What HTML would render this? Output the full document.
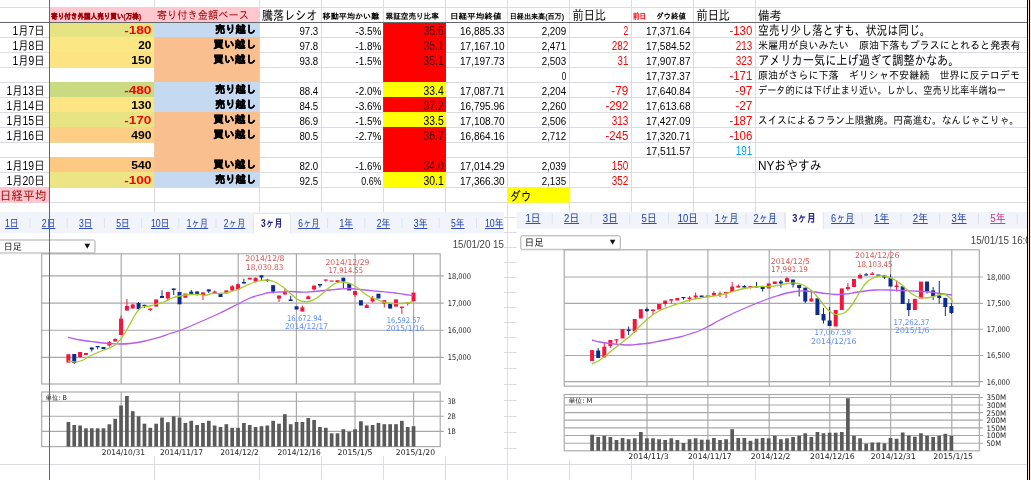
<!DOCTYPE html>
<html lang="ja"><head><meta charset="utf-8"><title>sheet</title>
<style>html,body{margin:0;padding:0;background:#fff;overflow:hidden}svg{display:block}text{white-space:pre}</style>
</head><body>
<svg width="1031" height="480" viewBox="0 0 1031 480">
<rect width="1031" height="480" fill="#fff"/>
<g shape-rendering="crispEdges">
<rect x="0" y="7" width="1027" height="1" fill="#dadce1" />
<rect x="0" y="22" width="1027" height="1" fill="#dadce1" />
<rect x="0" y="37" width="1027" height="1" fill="#dadce1" />
<rect x="0" y="52" width="1027" height="1" fill="#dadce1" />
<rect x="0" y="67" width="1027" height="1" fill="#dadce1" />
<rect x="0" y="82" width="1027" height="1" fill="#dadce1" />
<rect x="0" y="97" width="1027" height="1" fill="#dadce1" />
<rect x="0" y="112" width="1027" height="1" fill="#dadce1" />
<rect x="0" y="127" width="1027" height="1" fill="#dadce1" />
<rect x="0" y="142" width="1027" height="1" fill="#dadce1" />
<rect x="0" y="157" width="1027" height="1" fill="#dadce1" />
<rect x="0" y="172" width="1027" height="1" fill="#dadce1" />
<rect x="0" y="187" width="1027" height="1" fill="#dadce1" />
<rect x="0" y="202" width="1027" height="1" fill="#dadce1" />
<rect x="0" y="217" width="1027" height="1" fill="#dadce1" />
<rect x="0" y="232" width="1027" height="1" fill="#dadce1" />
<rect x="0" y="247" width="1027" height="1" fill="#dadce1" />
<rect x="0" y="262" width="1027" height="1" fill="#dadce1" />
<rect x="0" y="277" width="1027" height="1" fill="#dadce1" />
<rect x="0" y="292" width="1027" height="1" fill="#dadce1" />
<rect x="0" y="307" width="1027" height="1" fill="#dadce1" />
<rect x="0" y="322" width="1027" height="1" fill="#dadce1" />
<rect x="0" y="337" width="1027" height="1" fill="#dadce1" />
<rect x="0" y="352" width="1027" height="1" fill="#dadce1" />
<rect x="0" y="368" width="1027" height="1" fill="#dadce1" />
<rect x="0" y="384" width="1027" height="1" fill="#dadce1" />
<rect x="0" y="400" width="1027" height="1" fill="#dadce1" />
<rect x="0" y="416" width="1027" height="1" fill="#dadce1" />
<rect x="0" y="432" width="1027" height="1" fill="#dadce1" />
<rect x="0" y="448" width="1027" height="1" fill="#dadce1" />
<rect x="0" y="464" width="1027" height="1" fill="#dadce1" />
<rect x="154" y="0" width="1" height="480" fill="#dadce1" />
<rect x="259" y="0" width="1" height="480" fill="#dadce1" />
<rect x="321" y="0" width="1" height="480" fill="#dadce1" />
<rect x="383" y="0" width="1" height="480" fill="#dadce1" />
<rect x="445" y="0" width="1" height="480" fill="#dadce1" />
<rect x="507" y="0" width="1" height="480" fill="#dadce1" />
<rect x="569" y="0" width="1" height="480" fill="#dadce1" />
<rect x="631" y="0" width="1" height="480" fill="#dadce1" />
<rect x="693" y="0" width="1" height="480" fill="#dadce1" />
<rect x="755" y="0" width="1" height="480" fill="#dadce1" />
</g>
<rect x="50" y="7.3" width="209.7" height="14.7" fill="#ffc7ce" />
<rect x="50" y="23" width="104.25" height="14.7" fill="#e6e383" />
<rect x="50" y="37.0" width="104.25" height="15.7" fill="#fbe884" />
<rect x="50" y="52.0" width="104.25" height="15.7" fill="#fee383" />
<rect x="50" y="82.0" width="104.25" height="15.7" fill="#c9da81" />
<rect x="50" y="97.0" width="104.25" height="15.7" fill="#fde583" />
<rect x="50" y="112.0" width="104.25" height="15.7" fill="#e7e483" />
<rect x="50" y="127.0" width="104.25" height="15.7" fill="#fdcf84" />
<rect x="50" y="157.0" width="104.25" height="15.7" fill="#fdc983" />
<rect x="50" y="172.0" width="104.25" height="15.7" fill="#ede483" />
<rect x="154.25" y="23" width="105.45" height="14.7" fill="#c5d9f1" />
<rect x="154.25" y="37.0" width="105.45" height="15.7" fill="#fabf8f" />
<rect x="154.25" y="52.0" width="105.45" height="15.7" fill="#fabf8f" />
<rect x="154.25" y="67.0" width="105.45" height="15.7" fill="#fabf8f" />
<rect x="154.25" y="82.0" width="105.45" height="15.7" fill="#c5d9f1" />
<rect x="154.25" y="97.0" width="105.45" height="15.7" fill="#c5d9f1" />
<rect x="154.25" y="112.0" width="105.45" height="15.7" fill="#fabf8f" />
<rect x="154.25" y="127.0" width="105.45" height="15.7" fill="#fabf8f" />
<rect x="154.25" y="142.0" width="105.45" height="15.7" fill="#fabf8f" />
<rect x="154.25" y="157.0" width="105.45" height="15.7" fill="#fabf8f" />
<rect x="154.25" y="172.0" width="105.45" height="15.7" fill="#c5d9f1" />
<rect x="383.1" y="23" width="62.9" height="14.7" fill="#ff0000" />
<rect x="383.1" y="37.0" width="62.9" height="15.7" fill="#ff0000" />
<rect x="383.1" y="52.0" width="62.9" height="15.7" fill="#ff0000" />
<rect x="383.1" y="67.0" width="62.9" height="15.7" fill="#ff0000" />
<rect x="383.1" y="82.0" width="62.9" height="15.7" fill="#ffff00" />
<rect x="383.1" y="97.0" width="62.9" height="15.7" fill="#ff0000" />
<rect x="383.1" y="112.0" width="62.9" height="15.7" fill="#ffff00" />
<rect x="383.1" y="127.0" width="62.9" height="15.7" fill="#ff0000" />
<rect x="383.1" y="142.0" width="62.9" height="15.7" fill="#ff0000" />
<rect x="383.1" y="157.0" width="62.9" height="15.7" fill="#ff0000" />
<rect x="383.1" y="172.0" width="62.9" height="15.7" fill="#ffff00" />
<rect x="0" y="187.3" width="49" height="15.5" fill="#ffc7ce" />
<rect x="507" y="187.2" width="63.2" height="15.5" fill="#ffff00" />
<g font-family='"Liberation Sans","IPAGothic",sans-serif'>
<text x="51.1" y="18.5" font-size="7.6" fill="#9c0006" font-weight="bold" textLength="90.0" lengthAdjust="spacingAndGlyphs" stroke="#9c0006" stroke-width="0.25">寄り付き外国人売り買い(万株)</text>
<text x="156.7" y="19.1" font-size="11" fill="#9c0006" textLength="92.2" lengthAdjust="spacingAndGlyphs" >寄り付き金額ベース</text>
<text x="262" y="20" font-size="13" fill="#000" textLength="55.5" lengthAdjust="spacingAndGlyphs" >騰落レシオ</text>
<text x="322.6" y="19" font-size="7.8" fill="#000" font-weight="bold" textLength="56.7" lengthAdjust="spacingAndGlyphs" >移動平均かい離</text>
<text x="385.6" y="19" font-size="7.8" fill="#000" font-weight="bold" textLength="53.2" lengthAdjust="spacingAndGlyphs" >累証空売り比率</text>
<text x="449.9" y="19" font-size="7.8" fill="#000" font-weight="bold" textLength="51.7" lengthAdjust="spacingAndGlyphs" >日経平均終値</text>
<text x="509.7" y="19" font-size="7.4" fill="#000" font-weight="bold" textLength="54.4" lengthAdjust="spacingAndGlyphs" >日経出来高(百万)</text>
<text x="572.5" y="20" font-size="13.5" fill="#000" textLength="33.5" lengthAdjust="spacingAndGlyphs" >前日比</text>
<text x="633" y="19" font-size="7.8" fill="#ff0000" font-weight="bold" textLength="13.0" lengthAdjust="spacingAndGlyphs" >前日</text>
<text x="656" y="19" font-size="7.8" fill="#000" font-weight="bold" textLength="30.0" lengthAdjust="spacingAndGlyphs" >ダウ終値</text>
<text x="696.5" y="20" font-size="13.5" fill="#000" textLength="33.5" lengthAdjust="spacingAndGlyphs" >前日比</text>
<text x="758" y="20" font-size="12.5" fill="#000" textLength="23.5" lengthAdjust="spacingAndGlyphs" >備考</text>
<text x="44.5" y="34.5" font-size="12.3" fill="#000" text-anchor="end" textLength="32.0" lengthAdjust="spacingAndGlyphs" >1月7日</text>
<text x="151.4" y="33.8" font-size="10.4" fill="#ff0000" text-anchor="end" font-weight="bold" textLength="27.2" lengthAdjust="spacingAndGlyphs" >-180</text>
<text x="256.2" y="33.3" font-size="10.4" fill="#000" text-anchor="end" font-weight="bold" textLength="41.3" lengthAdjust="spacingAndGlyphs" stroke="#000" stroke-width="0.35">売り越し</text>
<text x="318.2" y="35" font-size="11.6" fill="#000" text-anchor="end" textLength="18.8" lengthAdjust="spacingAndGlyphs" >97.3</text>
<text x="381.5" y="35" font-size="11.6" fill="#000" text-anchor="end" textLength="26.2" lengthAdjust="spacingAndGlyphs" >-3.5%</text>
<text x="443.8" y="35" font-size="12.4" fill="#4a0000" text-anchor="end" textLength="20.3" lengthAdjust="spacingAndGlyphs" >35.6</text>
<text x="504.6" y="35" font-size="11.6" fill="#000" text-anchor="end" textLength="44.6" lengthAdjust="spacingAndGlyphs" >16,885.33</text>
<text x="566.2" y="35" font-size="11.6" fill="#000" text-anchor="end" textLength="24.5" lengthAdjust="spacingAndGlyphs" >2,209</text>
<text x="628.3" y="35" font-size="12.4" fill="#ff0000" text-anchor="end" textLength="4.7" lengthAdjust="spacingAndGlyphs" >2</text>
<text x="690.5" y="35" font-size="11.6" fill="#000" text-anchor="end" textLength="44.6" lengthAdjust="spacingAndGlyphs" >17,371.64</text>
<text x="752.3" y="35" font-size="12.4" fill="#ff0000" text-anchor="end" textLength="22.9" lengthAdjust="spacingAndGlyphs" >-130</text>
<text x="758" y="34.7" font-size="13.2" fill="#000" textLength="172.5" lengthAdjust="spacingAndGlyphs" >空売り少し落とすも、状況は同じ。</text>
<text x="44.5" y="49.5" font-size="12.3" fill="#000" text-anchor="end" textLength="32.0" lengthAdjust="spacingAndGlyphs" >1月8日</text>
<text x="151.4" y="48.8" font-size="10.4" fill="#000" text-anchor="end" font-weight="bold" textLength="13.2" lengthAdjust="spacingAndGlyphs" >20</text>
<text x="256.2" y="48.3" font-size="10.4" fill="#000" text-anchor="end" font-weight="bold" textLength="43.0" lengthAdjust="spacingAndGlyphs" stroke="#000" stroke-width="0.35">買い越し</text>
<text x="318.2" y="50" font-size="11.6" fill="#000" text-anchor="end" textLength="18.8" lengthAdjust="spacingAndGlyphs" >97.8</text>
<text x="381.5" y="50" font-size="11.6" fill="#000" text-anchor="end" textLength="26.2" lengthAdjust="spacingAndGlyphs" >-1.8%</text>
<text x="443.8" y="50" font-size="12.4" fill="#4a0000" text-anchor="end" textLength="20.3" lengthAdjust="spacingAndGlyphs" >35.1</text>
<text x="504.6" y="50" font-size="11.6" fill="#000" text-anchor="end" textLength="44.6" lengthAdjust="spacingAndGlyphs" >17,167.10</text>
<text x="566.2" y="50" font-size="11.6" fill="#000" text-anchor="end" textLength="24.5" lengthAdjust="spacingAndGlyphs" >2,471</text>
<text x="628.3" y="50" font-size="12.4" fill="#ff0000" text-anchor="end" textLength="16.6" lengthAdjust="spacingAndGlyphs" >282</text>
<text x="690.5" y="50" font-size="11.6" fill="#000" text-anchor="end" textLength="44.6" lengthAdjust="spacingAndGlyphs" >17,584.52</text>
<text x="752.3" y="50" font-size="12.4" fill="#ff0000" text-anchor="end" textLength="16.6" lengthAdjust="spacingAndGlyphs" >213</text>
<text x="758" y="49.0" font-size="10.7" fill="#000" textLength="262.5" lengthAdjust="spacingAndGlyphs" >米雇用が良いみたい　原油下落もプラスにとれると発表有</text>
<text x="44.5" y="64.5" font-size="12.3" fill="#000" text-anchor="end" textLength="32.0" lengthAdjust="spacingAndGlyphs" >1月9日</text>
<text x="151.4" y="63.8" font-size="10.4" fill="#000" text-anchor="end" font-weight="bold" textLength="20.2" lengthAdjust="spacingAndGlyphs" >150</text>
<text x="256.2" y="63.3" font-size="10.4" fill="#000" text-anchor="end" font-weight="bold" textLength="43.0" lengthAdjust="spacingAndGlyphs" stroke="#000" stroke-width="0.35">買い越し</text>
<text x="318.2" y="65" font-size="11.6" fill="#000" text-anchor="end" textLength="18.8" lengthAdjust="spacingAndGlyphs" >93.8</text>
<text x="381.5" y="65" font-size="11.6" fill="#000" text-anchor="end" textLength="26.2" lengthAdjust="spacingAndGlyphs" >-1.5%</text>
<text x="443.8" y="65" font-size="12.4" fill="#4a0000" text-anchor="end" textLength="20.3" lengthAdjust="spacingAndGlyphs" >35.1</text>
<text x="504.6" y="65" font-size="11.6" fill="#000" text-anchor="end" textLength="44.6" lengthAdjust="spacingAndGlyphs" >17,197.73</text>
<text x="566.2" y="65" font-size="11.6" fill="#000" text-anchor="end" textLength="24.5" lengthAdjust="spacingAndGlyphs" >2,503</text>
<text x="628.3" y="65" font-size="12.4" fill="#ff0000" text-anchor="end" textLength="10.7" lengthAdjust="spacingAndGlyphs" >31</text>
<text x="690.5" y="65" font-size="11.6" fill="#000" text-anchor="end" textLength="44.6" lengthAdjust="spacingAndGlyphs" >17,907.87</text>
<text x="752.3" y="65" font-size="12.4" fill="#ff0000" text-anchor="end" textLength="16.6" lengthAdjust="spacingAndGlyphs" >323</text>
<text x="758" y="64.7" font-size="13.2" fill="#000" textLength="201.5" lengthAdjust="spacingAndGlyphs" >アメリカ一気に上げ過ぎて調整かなあ。</text>
<text x="566.2" y="80" font-size="11.6" fill="#000" text-anchor="end" textLength="4.5" lengthAdjust="spacingAndGlyphs" >0</text>
<text x="690.5" y="80" font-size="11.6" fill="#000" text-anchor="end" textLength="44.6" lengthAdjust="spacingAndGlyphs" >17,737.37</text>
<text x="752.3" y="80" font-size="12.4" fill="#ff0000" text-anchor="end" textLength="22.9" lengthAdjust="spacingAndGlyphs" >-171</text>
<text x="758" y="79.0" font-size="10.7" fill="#000" textLength="262.0" lengthAdjust="spacingAndGlyphs" >原油がさらに下落　ギリシャ不安継続　世界に反テロデモ</text>
<text x="44.5" y="94.5" font-size="12.3" fill="#000" text-anchor="end" textLength="38.0" lengthAdjust="spacingAndGlyphs" >1月13日</text>
<text x="151.4" y="93.8" font-size="10.4" fill="#ff0000" text-anchor="end" font-weight="bold" textLength="27.2" lengthAdjust="spacingAndGlyphs" >-480</text>
<text x="256.2" y="93.3" font-size="10.4" fill="#000" text-anchor="end" font-weight="bold" textLength="41.3" lengthAdjust="spacingAndGlyphs" stroke="#000" stroke-width="0.35">売り越し</text>
<text x="318.2" y="95" font-size="11.6" fill="#000" text-anchor="end" textLength="18.8" lengthAdjust="spacingAndGlyphs" >88.4</text>
<text x="381.5" y="95" font-size="11.6" fill="#000" text-anchor="end" textLength="26.2" lengthAdjust="spacingAndGlyphs" >-2.0%</text>
<text x="443.8" y="95" font-size="12.4" fill="#000" text-anchor="end" textLength="20.3" lengthAdjust="spacingAndGlyphs" >33.4</text>
<text x="504.6" y="95" font-size="11.6" fill="#000" text-anchor="end" textLength="44.6" lengthAdjust="spacingAndGlyphs" >17,087.71</text>
<text x="566.2" y="95" font-size="11.6" fill="#000" text-anchor="end" textLength="24.5" lengthAdjust="spacingAndGlyphs" >2,204</text>
<text x="628.3" y="95" font-size="12.4" fill="#ff0000" text-anchor="end" textLength="17.0" lengthAdjust="spacingAndGlyphs" >-79</text>
<text x="690.5" y="95" font-size="11.6" fill="#000" text-anchor="end" textLength="44.6" lengthAdjust="spacingAndGlyphs" >17,640.84</text>
<text x="752.3" y="95" font-size="12.4" fill="#ff0000" text-anchor="end" textLength="17.0" lengthAdjust="spacingAndGlyphs" >-97</text>
<text x="758" y="94.0" font-size="10.7" fill="#000" textLength="248.0" lengthAdjust="spacingAndGlyphs" >データ的には下げ止まり近い。しかし、空売り比率半端ねー</text>
<text x="44.5" y="109.5" font-size="12.3" fill="#000" text-anchor="end" textLength="38.0" lengthAdjust="spacingAndGlyphs" >1月14日</text>
<text x="151.4" y="108.8" font-size="10.4" fill="#000" text-anchor="end" font-weight="bold" textLength="20.2" lengthAdjust="spacingAndGlyphs" >130</text>
<text x="256.2" y="108.3" font-size="10.4" fill="#000" text-anchor="end" font-weight="bold" textLength="41.3" lengthAdjust="spacingAndGlyphs" stroke="#000" stroke-width="0.35">売り越し</text>
<text x="318.2" y="110" font-size="11.6" fill="#000" text-anchor="end" textLength="18.8" lengthAdjust="spacingAndGlyphs" >84.5</text>
<text x="381.5" y="110" font-size="11.6" fill="#000" text-anchor="end" textLength="26.2" lengthAdjust="spacingAndGlyphs" >-3.6%</text>
<text x="443.8" y="110" font-size="12.4" fill="#4a0000" text-anchor="end" textLength="20.3" lengthAdjust="spacingAndGlyphs" >37.2</text>
<text x="504.6" y="110" font-size="11.6" fill="#000" text-anchor="end" textLength="44.6" lengthAdjust="spacingAndGlyphs" >16,795.96</text>
<text x="566.2" y="110" font-size="11.6" fill="#000" text-anchor="end" textLength="24.5" lengthAdjust="spacingAndGlyphs" >2,260</text>
<text x="628.3" y="110" font-size="12.4" fill="#ff0000" text-anchor="end" textLength="22.9" lengthAdjust="spacingAndGlyphs" >-292</text>
<text x="690.5" y="110" font-size="11.6" fill="#000" text-anchor="end" textLength="44.6" lengthAdjust="spacingAndGlyphs" >17,613.68</text>
<text x="752.3" y="110" font-size="12.4" fill="#ff0000" text-anchor="end" textLength="17.0" lengthAdjust="spacingAndGlyphs" >-27</text>
<text x="44.5" y="124.5" font-size="12.3" fill="#000" text-anchor="end" textLength="38.0" lengthAdjust="spacingAndGlyphs" >1月15日</text>
<text x="151.4" y="123.8" font-size="10.4" fill="#ff0000" text-anchor="end" font-weight="bold" textLength="27.2" lengthAdjust="spacingAndGlyphs" >-170</text>
<text x="256.2" y="123.3" font-size="10.4" fill="#000" text-anchor="end" font-weight="bold" textLength="43.0" lengthAdjust="spacingAndGlyphs" stroke="#000" stroke-width="0.35">買い越し</text>
<text x="318.2" y="125" font-size="11.6" fill="#000" text-anchor="end" textLength="18.8" lengthAdjust="spacingAndGlyphs" >86.9</text>
<text x="381.5" y="125" font-size="11.6" fill="#000" text-anchor="end" textLength="26.2" lengthAdjust="spacingAndGlyphs" >-1.5%</text>
<text x="443.8" y="125" font-size="12.4" fill="#000" text-anchor="end" textLength="20.3" lengthAdjust="spacingAndGlyphs" >33.5</text>
<text x="504.6" y="125" font-size="11.6" fill="#000" text-anchor="end" textLength="44.6" lengthAdjust="spacingAndGlyphs" >17,108.70</text>
<text x="566.2" y="125" font-size="11.6" fill="#000" text-anchor="end" textLength="24.5" lengthAdjust="spacingAndGlyphs" >2,506</text>
<text x="628.3" y="125" font-size="12.4" fill="#ff0000" text-anchor="end" textLength="16.6" lengthAdjust="spacingAndGlyphs" >313</text>
<text x="690.5" y="125" font-size="11.6" fill="#000" text-anchor="end" textLength="44.6" lengthAdjust="spacingAndGlyphs" >17,427.09</text>
<text x="752.3" y="125" font-size="12.4" fill="#ff0000" text-anchor="end" textLength="22.9" lengthAdjust="spacingAndGlyphs" >-187</text>
<text x="758" y="124.0" font-size="10.7" fill="#000" textLength="261.0" lengthAdjust="spacingAndGlyphs" >スイスによるフラン上限撤廃。円高進む。なんじゃこりゃ。</text>
<text x="44.5" y="139.5" font-size="12.3" fill="#000" text-anchor="end" textLength="38.0" lengthAdjust="spacingAndGlyphs" >1月16日</text>
<text x="151.4" y="138.8" font-size="10.4" fill="#000" text-anchor="end" font-weight="bold" textLength="20.2" lengthAdjust="spacingAndGlyphs" >490</text>
<text x="256.2" y="138.3" font-size="10.4" fill="#000" text-anchor="end" font-weight="bold" textLength="43.0" lengthAdjust="spacingAndGlyphs" stroke="#000" stroke-width="0.35">買い越し</text>
<text x="318.2" y="140" font-size="11.6" fill="#000" text-anchor="end" textLength="18.8" lengthAdjust="spacingAndGlyphs" >80.5</text>
<text x="381.5" y="140" font-size="11.6" fill="#000" text-anchor="end" textLength="26.2" lengthAdjust="spacingAndGlyphs" >-2.7%</text>
<text x="443.8" y="140" font-size="12.4" fill="#4a0000" text-anchor="end" textLength="20.3" lengthAdjust="spacingAndGlyphs" >36.7</text>
<text x="504.6" y="140" font-size="11.6" fill="#000" text-anchor="end" textLength="44.6" lengthAdjust="spacingAndGlyphs" >16,864.16</text>
<text x="566.2" y="140" font-size="11.6" fill="#000" text-anchor="end" textLength="24.5" lengthAdjust="spacingAndGlyphs" >2,712</text>
<text x="628.3" y="140" font-size="12.4" fill="#ff0000" text-anchor="end" textLength="22.9" lengthAdjust="spacingAndGlyphs" >-245</text>
<text x="690.5" y="140" font-size="11.6" fill="#000" text-anchor="end" textLength="44.6" lengthAdjust="spacingAndGlyphs" >17,320.71</text>
<text x="752.3" y="140" font-size="12.4" fill="#ff0000" text-anchor="end" textLength="22.9" lengthAdjust="spacingAndGlyphs" >-106</text>
<text x="690.5" y="155" font-size="11.6" fill="#000" text-anchor="end" textLength="44.6" lengthAdjust="spacingAndGlyphs" >17,511.57</text>
<text x="752.3" y="155" font-size="12.4" fill="#00a2e8" text-anchor="end" textLength="16.6" lengthAdjust="spacingAndGlyphs" >191</text>
<text x="44.5" y="169.5" font-size="12.3" fill="#000" text-anchor="end" textLength="38.0" lengthAdjust="spacingAndGlyphs" >1月19日</text>
<text x="151.4" y="168.8" font-size="10.4" fill="#000" text-anchor="end" font-weight="bold" textLength="20.2" lengthAdjust="spacingAndGlyphs" >540</text>
<text x="256.2" y="168.3" font-size="10.4" fill="#000" text-anchor="end" font-weight="bold" textLength="43.0" lengthAdjust="spacingAndGlyphs" stroke="#000" stroke-width="0.35">買い越し</text>
<text x="318.2" y="170" font-size="11.6" fill="#000" text-anchor="end" textLength="18.8" lengthAdjust="spacingAndGlyphs" >82.0</text>
<text x="381.5" y="170" font-size="11.6" fill="#000" text-anchor="end" textLength="26.2" lengthAdjust="spacingAndGlyphs" >-1.6%</text>
<text x="443.8" y="170" font-size="12.4" fill="#4a0000" text-anchor="end" textLength="20.3" lengthAdjust="spacingAndGlyphs" >34.0</text>
<text x="504.6" y="170" font-size="11.6" fill="#000" text-anchor="end" textLength="44.6" lengthAdjust="spacingAndGlyphs" >17,014.29</text>
<text x="566.2" y="170" font-size="11.6" fill="#000" text-anchor="end" textLength="24.5" lengthAdjust="spacingAndGlyphs" >2,039</text>
<text x="628.3" y="170" font-size="12.4" fill="#ff0000" text-anchor="end" textLength="16.6" lengthAdjust="spacingAndGlyphs" >150</text>
<text x="758" y="169.7" font-size="13.2" fill="#000" textLength="63.5" lengthAdjust="spacingAndGlyphs" >NYおやすみ</text>
<text x="44.5" y="184.5" font-size="12.3" fill="#000" text-anchor="end" textLength="38.0" lengthAdjust="spacingAndGlyphs" >1月20日</text>
<text x="151.4" y="183.8" font-size="10.4" fill="#ff0000" text-anchor="end" font-weight="bold" textLength="27.2" lengthAdjust="spacingAndGlyphs" >-100</text>
<text x="256.2" y="183.3" font-size="10.4" fill="#000" text-anchor="end" font-weight="bold" textLength="41.3" lengthAdjust="spacingAndGlyphs" stroke="#000" stroke-width="0.35">売り越し</text>
<text x="318.2" y="185" font-size="11.6" fill="#000" text-anchor="end" textLength="18.8" lengthAdjust="spacingAndGlyphs" >92.5</text>
<text x="381.5" y="185" font-size="11.6" fill="#000" text-anchor="end" textLength="20.2" lengthAdjust="spacingAndGlyphs" >0.6%</text>
<text x="443.8" y="185" font-size="12.4" fill="#000" text-anchor="end" textLength="20.3" lengthAdjust="spacingAndGlyphs" >30.1</text>
<text x="504.6" y="185" font-size="11.6" fill="#000" text-anchor="end" textLength="44.6" lengthAdjust="spacingAndGlyphs" >17,366.30</text>
<text x="566.2" y="185" font-size="11.6" fill="#000" text-anchor="end" textLength="24.5" lengthAdjust="spacingAndGlyphs" >2,135</text>
<text x="628.3" y="185" font-size="12.4" fill="#ff0000" text-anchor="end" textLength="16.6" lengthAdjust="spacingAndGlyphs" >352</text>
<text x="-0.3" y="200.2" font-size="12.3" fill="#9c0006" textLength="46.6" lengthAdjust="spacingAndGlyphs" >日経平均</text>
<text x="509.8" y="200.7" font-size="12.8" fill="#000" textLength="21.8" lengthAdjust="spacingAndGlyphs" >ダウ</text>
</g>
<clipPath id="cl1"><rect x="0" y="212" width="504" height="244.5"/></clipPath>
<g clip-path="url(#cl1)">
<rect x="0" y="212" width="504" height="244.5" fill="#fff" />
<rect x="0" y="212" width="504" height="21.400000000000006" fill="#f1f4fa" />
<rect x="29.5" y="218" width="1" height="10" fill="#dde1e9" />
<rect x="66.7" y="218" width="1" height="10" fill="#dde1e9" />
<rect x="103.9" y="218" width="1" height="10" fill="#dde1e9" />
<rect x="141.1" y="218" width="1" height="10" fill="#dde1e9" />
<rect x="178.3" y="218" width="1" height="10" fill="#dde1e9" />
<rect x="215.5" y="218" width="1" height="10" fill="#dde1e9" />
<rect x="252.7" y="218" width="1" height="10" fill="#dde1e9" />
<rect x="289.9" y="218" width="1" height="10" fill="#dde1e9" />
<rect x="327.1" y="218" width="1" height="10" fill="#dde1e9" />
<rect x="364.3" y="218" width="1" height="10" fill="#dde1e9" />
<rect x="401.5" y="218" width="1" height="10" fill="#dde1e9" />
<rect x="438.7" y="218" width="1" height="10" fill="#dde1e9" />
<rect x="475.9" y="218" width="1" height="10" fill="#dde1e9" />
<path d="M253.4,233.4 V215.2 q0,-1.7 1.7,-1.7 H288.7 q1.7,0 1.7,1.7 V233.4 Z" fill="#fff" stroke="#e3e7ef" stroke-width="1"/>
<rect x="253.9" y="232.4" width="35.99999999999997" height="1.6" fill="#fff" />
<g font-family='"Liberation Sans","IPAGothic",sans-serif' font-size="10.6">
<text x="11.8" y="226.8" font-size="10.6" fill="#1f3da8" text-anchor="middle" textLength="13.5" lengthAdjust="spacingAndGlyphs" >1日</text>
<rect x="5.050000000000001" y="228.0" width="13.5" height="0.9" fill="#1f3da8" />
<text x="48.6" y="226.8" font-size="10.6" fill="#1f3da8" text-anchor="middle" textLength="13.5" lengthAdjust="spacingAndGlyphs" >2日</text>
<rect x="41.85" y="228.0" width="13.5" height="0.9" fill="#1f3da8" />
<text x="85.8" y="226.8" font-size="10.6" fill="#1f3da8" text-anchor="middle" textLength="13.5" lengthAdjust="spacingAndGlyphs" >3日</text>
<rect x="79.05" y="228.0" width="13.5" height="0.9" fill="#1f3da8" />
<text x="123.0" y="226.8" font-size="10.6" fill="#1f3da8" text-anchor="middle" textLength="13.5" lengthAdjust="spacingAndGlyphs" >5日</text>
<rect x="116.25" y="228.0" width="13.5" height="0.9" fill="#1f3da8" />
<text x="160.2" y="226.8" font-size="10.6" fill="#1f3da8" text-anchor="middle" textLength="18.5" lengthAdjust="spacingAndGlyphs" >10日</text>
<rect x="150.95" y="228.0" width="18.5" height="0.9" fill="#1f3da8" />
<text x="197.4" y="226.8" font-size="10.6" fill="#1f3da8" text-anchor="middle" textLength="21.5" lengthAdjust="spacingAndGlyphs" >1ヶ月</text>
<rect x="186.65" y="228.0" width="21.5" height="0.9" fill="#1f3da8" />
<text x="234.6" y="226.8" font-size="10.6" fill="#1f3da8" text-anchor="middle" textLength="21.5" lengthAdjust="spacingAndGlyphs" >2ヶ月</text>
<rect x="223.85" y="228.0" width="21.5" height="0.9" fill="#1f3da8" />
<text x="271.8" y="226.8" font-size="10.6" fill="#1c1c8c" text-anchor="middle" font-weight="bold" textLength="21.5" lengthAdjust="spacingAndGlyphs" >3ヶ月</text>
<text x="309.0" y="226.8" font-size="10.6" fill="#1f3da8" text-anchor="middle" textLength="21.5" lengthAdjust="spacingAndGlyphs" >6ヶ月</text>
<rect x="298.25" y="228.0" width="21.5" height="0.9" fill="#1f3da8" />
<text x="346.2" y="226.8" font-size="10.6" fill="#1f3da8" text-anchor="middle" textLength="13.5" lengthAdjust="spacingAndGlyphs" >1年</text>
<rect x="339.45" y="228.0" width="13.5" height="0.9" fill="#1f3da8" />
<text x="383.4" y="226.8" font-size="10.6" fill="#1f3da8" text-anchor="middle" textLength="13.5" lengthAdjust="spacingAndGlyphs" >2年</text>
<rect x="376.65" y="228.0" width="13.5" height="0.9" fill="#1f3da8" />
<text x="420.6" y="226.8" font-size="10.6" fill="#1f3da8" text-anchor="middle" textLength="13.5" lengthAdjust="spacingAndGlyphs" >3年</text>
<rect x="413.85" y="228.0" width="13.5" height="0.9" fill="#1f3da8" />
<text x="457.8" y="226.8" font-size="10.6" fill="#1f3da8" text-anchor="middle" textLength="13.5" lengthAdjust="spacingAndGlyphs" >5年</text>
<rect x="451.05" y="228.0" width="13.5" height="0.9" fill="#1f3da8" />
<text x="494.2" y="226.8" font-size="10.6" fill="#1f3da8" text-anchor="middle" textLength="18.5" lengthAdjust="spacingAndGlyphs" >10年</text>
<rect x="484.95" y="228.0" width="18.5" height="0.9" fill="#1f3da8" />
</g>
<rect x="-2.5" y="240.0" width="97.5" height="13" rx="1.5" fill="#fff" stroke="#a9a9a9"/>
<rect x="-2" y="253.3" width="97.5" height="0.9" fill="#dcdcdc" />
<text x="3.7" y="249.5" font-size="9.62" fill="#111" textLength="18.2" lengthAdjust="spacingAndGlyphs" font-family='"Liberation Sans","IPAGothic",sans-serif' >日足</text>
<path d="M84.5,243.7 h5.6 l-2.8,5 z" fill="#111"/>
<text x="452.7" y="248.2" font-size="10.1" fill="#444" textLength="64.6" lengthAdjust="spacingAndGlyphs" font-family='"Liberation Sans","IPAGothic",sans-serif' >15/01/20 15:00</text>
<g stroke="#a8a8a8" stroke-width="1.15" fill="none">
<rect x="41.7" y="253.8" width="398.5" height="130.2"/>
<line x1="41.7" y1="275.8" x2="443.8" y2="275.8"/>
<line x1="41.7" y1="303.1" x2="443.8" y2="303.1"/>
<line x1="41.7" y1="330.2" x2="443.8" y2="330.2"/>
<line x1="41.7" y1="357.4" x2="443.8" y2="357.4"/>
<line x1="121.2" y1="253.8" x2="121.2" y2="384"/>
<line x1="179.6" y1="253.8" x2="179.6" y2="384"/>
<line x1="238.2" y1="253.8" x2="238.2" y2="384"/>
<line x1="296.4" y1="253.8" x2="296.4" y2="384"/>
<line x1="355" y1="253.8" x2="355" y2="384"/>
<line x1="413.6" y1="253.8" x2="413.6" y2="384"/>
<rect x="41.7" y="392" width="398.5" height="54.60000000000002"/>
<line x1="41.7" y1="401.2" x2="443.8" y2="401.2"/>
<line x1="41.7" y1="416.2" x2="443.8" y2="416.2"/>
<line x1="41.7" y1="431.3" x2="443.8" y2="431.3"/>
<line x1="121.2" y1="392" x2="121.2" y2="446.6"/>
<line x1="179.6" y1="392" x2="179.6" y2="446.6"/>
<line x1="238.2" y1="392" x2="238.2" y2="446.6"/>
<line x1="296.4" y1="392" x2="296.4" y2="446.6"/>
<line x1="355" y1="392" x2="355" y2="446.6"/>
<line x1="413.6" y1="392" x2="413.6" y2="446.6"/>
</g>
<g font-family='"DejaVu Sans","IPAGothic",sans-serif' font-size="7.6" fill="#222">
<text x="447.7" y="278.7" font-size="7.9" fill="#222" textLength="23.3" lengthAdjust="spacingAndGlyphs" >18,000</text>
<text x="447.7" y="306.0" font-size="7.9" fill="#222" textLength="23.3" lengthAdjust="spacingAndGlyphs" >17,000</text>
<text x="447.7" y="333.09999999999997" font-size="7.9" fill="#222" textLength="23.3" lengthAdjust="spacingAndGlyphs" >16,000</text>
<text x="447.7" y="360.29999999999995" font-size="7.9" fill="#222" textLength="23.3" lengthAdjust="spacingAndGlyphs" >15,000</text>
<text x="447.4" y="404.09999999999997" font-size="7.6" fill="#222" textLength="8.3" lengthAdjust="spacingAndGlyphs" >3B</text>
<text x="447.4" y="419.09999999999997" font-size="7.6" fill="#222" textLength="8.3" lengthAdjust="spacingAndGlyphs" >2B</text>
<text x="447.4" y="434.2" font-size="7.6" fill="#222" textLength="8.3" lengthAdjust="spacingAndGlyphs" >1B</text>
<text x="101.7" y="454.8" font-size="7.8" fill="#222" textLength="43.3" lengthAdjust="spacingAndGlyphs" >2014/10/31</text>
<text x="160" y="454.8" font-size="7.8" fill="#222" textLength="43.0" lengthAdjust="spacingAndGlyphs" >2014/11/17</text>
<text x="220.3" y="454.8" font-size="7.8" fill="#222" textLength="38.4" lengthAdjust="spacingAndGlyphs" >2014/12/2</text>
<text x="277.5" y="454.8" font-size="7.8" fill="#222" textLength="43.3" lengthAdjust="spacingAndGlyphs" >2014/12/16</text>
<text x="337.5" y="454.8" font-size="7.8" fill="#222" textLength="35.0" lengthAdjust="spacingAndGlyphs" >2015/1/5</text>
<text x="395.8" y="454.8" font-size="7.8" fill="#222" textLength="39.2" lengthAdjust="spacingAndGlyphs" >2015/1/20</text>
<text x="45.5" y="399.8" font-size="6.6" fill="#222" textLength="21.5" lengthAdjust="spacingAndGlyphs" >単位: B</text>
</g>
<g fill="#5a5a5a">
<rect x="66.55" y="422" width="3.7" height="24.6"/>
<rect x="72.40" y="425" width="3.7" height="21.6"/>
<rect x="78.25" y="425.5" width="3.7" height="21.1"/>
<rect x="84.10" y="428.3" width="3.7" height="18.3"/>
<rect x="89.95" y="428.3" width="3.7" height="18.3"/>
<rect x="95.80" y="428.3" width="3.7" height="18.3"/>
<rect x="101.65" y="428.3" width="3.7" height="18.3"/>
<rect x="107.50" y="424.3" width="3.7" height="22.3"/>
<rect x="113.35" y="418.8" width="3.7" height="27.8"/>
<rect x="119.20" y="405.5" width="3.7" height="41.1"/>
<rect x="125.05" y="396" width="3.7" height="50.6"/>
<rect x="130.90" y="411.2" width="3.7" height="35.4"/>
<rect x="136.75" y="416.3" width="3.7" height="30.3"/>
<rect x="142.60" y="423.7" width="3.7" height="22.9"/>
<rect x="148.45" y="427.8" width="3.7" height="18.8"/>
<rect x="154.30" y="423.7" width="3.7" height="22.9"/>
<rect x="160.15" y="417.5" width="3.7" height="29.1"/>
<rect x="166.00" y="422.2" width="3.7" height="24.4"/>
<rect x="171.85" y="416.3" width="3.7" height="30.3"/>
<rect x="177.70" y="417.5" width="3.7" height="29.1"/>
<rect x="183.55" y="423" width="3.7" height="23.6"/>
<rect x="189.40" y="420.8" width="3.7" height="25.8"/>
<rect x="195.25" y="425" width="3.7" height="21.6"/>
<rect x="201.10" y="423" width="3.7" height="23.6"/>
<rect x="206.95" y="420.8" width="3.7" height="25.8"/>
<rect x="212.80" y="425.5" width="3.7" height="21.1"/>
<rect x="218.65" y="427" width="3.7" height="19.6"/>
<rect x="224.50" y="424.2" width="3.7" height="22.4"/>
<rect x="230.35" y="427.8" width="3.7" height="18.8"/>
<rect x="236.20" y="427.8" width="3.7" height="18.8"/>
<rect x="242.05" y="423" width="3.7" height="23.6"/>
<rect x="247.90" y="425" width="3.7" height="21.6"/>
<rect x="253.75" y="427" width="3.7" height="19.6"/>
<rect x="259.60" y="426.2" width="3.7" height="20.4"/>
<rect x="265.45" y="425.5" width="3.7" height="21.1"/>
<rect x="271.30" y="420.8" width="3.7" height="25.8"/>
<rect x="277.15" y="423.7" width="3.7" height="22.9"/>
<rect x="283.00" y="414.2" width="3.7" height="32.4"/>
<rect x="288.85" y="424.2" width="3.7" height="22.4"/>
<rect x="294.70" y="422" width="3.7" height="24.6"/>
<rect x="300.55" y="422" width="3.7" height="24.6"/>
<rect x="306.40" y="418" width="3.7" height="28.6"/>
<rect x="312.25" y="420" width="3.7" height="26.6"/>
<rect x="318.10" y="427" width="3.7" height="19.6"/>
<rect x="323.95" y="427.8" width="3.7" height="18.8"/>
<rect x="329.80" y="433.3" width="3.7" height="13.3"/>
<rect x="335.65" y="433.3" width="3.7" height="13.3"/>
<rect x="341.50" y="429.2" width="3.7" height="17.4"/>
<rect x="347.35" y="431.7" width="3.7" height="14.9"/>
<rect x="353.20" y="429.2" width="3.7" height="17.4"/>
<rect x="359.05" y="421.3" width="3.7" height="25.3"/>
<rect x="364.90" y="425.5" width="3.7" height="21.1"/>
<rect x="370.75" y="425" width="3.7" height="21.6"/>
<rect x="376.60" y="423" width="3.7" height="23.6"/>
<rect x="382.45" y="424.2" width="3.7" height="22.4"/>
<rect x="388.30" y="424.2" width="3.7" height="22.4"/>
<rect x="394.15" y="424.2" width="3.7" height="22.4"/>
<rect x="400.00" y="420.8" width="3.7" height="25.8"/>
<rect x="405.85" y="427" width="3.7" height="19.6"/>
<rect x="411.70" y="426.2" width="3.7" height="20.4"/>
</g>
<rect x="66.40" y="354.2" width="4" height="8.4" fill="#f5143c"/>
<rect x="73.75" y="354" width="1" height="10.0" fill="#0c2c8c"/>
<rect x="72.25" y="354" width="4" height="9.0" fill="#0c2c8c"/>
<rect x="79.60" y="352" width="1" height="6.0" fill="#f5143c"/>
<rect x="78.10" y="352" width="4" height="5.0" fill="#f5143c"/>
<rect x="83.95" y="353" width="4" height="2.0" fill="#f5143c"/>
<rect x="91.30" y="347.5" width="1" height="4.0" fill="#0c2c8c"/>
<rect x="89.80" y="347.5" width="4" height="2.0" fill="#0c2c8c"/>
<rect x="97.15" y="346" width="1" height="3.3" fill="#0c2c8c"/>
<rect x="95.65" y="346" width="4" height="1.2" fill="#0c2c8c"/>
<rect x="101.50" y="347" width="4" height="2.0" fill="#0c2c8c"/>
<rect x="108.85" y="341" width="1" height="5.5" fill="#f5143c"/>
<rect x="107.35" y="342" width="4" height="3.5" fill="#f5143c"/>
<rect x="114.70" y="338.3" width="1" height="3.2" fill="#f5143c"/>
<rect x="113.20" y="339" width="4" height="2.5" fill="#f5143c"/>
<rect x="120.55" y="315.5" width="1" height="19.5" fill="#f5143c"/>
<rect x="119.05" y="318.7" width="4" height="16.3" fill="#f5143c"/>
<rect x="126.40" y="299" width="1" height="11.5" fill="#f5143c"/>
<rect x="124.90" y="306" width="4" height="4.5" fill="#f5143c"/>
<rect x="132.25" y="303.5" width="1" height="5.0" fill="#f5143c"/>
<rect x="130.75" y="304.5" width="4" height="4.0" fill="#f5143c"/>
<rect x="138.10" y="302" width="1" height="8.0" fill="#0c2c8c"/>
<rect x="136.60" y="303" width="4" height="6.0" fill="#0c2c8c"/>
<rect x="143.95" y="304.8" width="1" height="3.2" fill="#0c2c8c"/>
<rect x="142.45" y="304.8" width="4" height="1.2" fill="#0c2c8c"/>
<rect x="149.80" y="308.5" width="1" height="2.5" fill="#f5143c"/>
<rect x="148.30" y="308.5" width="4" height="1.5" fill="#f5143c"/>
<rect x="154.15" y="299.4" width="4" height="7.2" fill="#f5143c"/>
<rect x="161.50" y="290.3" width="1" height="7.7" fill="#0c2c8c"/>
<rect x="160.00" y="296" width="4" height="2.0" fill="#0c2c8c"/>
<rect x="167.35" y="292" width="1" height="8.0" fill="#f5143c"/>
<rect x="165.85" y="292" width="4" height="6.5" fill="#f5143c"/>
<rect x="173.20" y="288.5" width="1" height="6.5" fill="#0c2c8c"/>
<rect x="171.70" y="288.5" width="4" height="1.5" fill="#0c2c8c"/>
<rect x="177.55" y="292" width="4" height="12.3" fill="#0c2c8c"/>
<rect x="183.40" y="293.5" width="4" height="4.3" fill="#f5143c"/>
<rect x="190.75" y="290" width="1" height="4.0" fill="#0c2c8c"/>
<rect x="189.25" y="291.7" width="4" height="2.3" fill="#0c2c8c"/>
<rect x="196.60" y="291.5" width="1" height="4.0" fill="#0c2c8c"/>
<rect x="195.10" y="291.5" width="4" height="3.0" fill="#0c2c8c"/>
<rect x="202.45" y="292.4" width="1" height="7.6" fill="#f5143c"/>
<rect x="200.95" y="292.4" width="4" height="2.6" fill="#f5143c"/>
<rect x="208.30" y="289.4" width="1" height="3.6" fill="#0c2c8c"/>
<rect x="206.80" y="289.4" width="4" height="2.1" fill="#0c2c8c"/>
<rect x="214.15" y="290.5" width="1" height="3.0" fill="#f5143c"/>
<rect x="212.65" y="291.5" width="4" height="2.0" fill="#f5143c"/>
<rect x="218.50" y="294" width="4" height="3.0" fill="#0c2c8c"/>
<rect x="224.35" y="290.3" width="4" height="3.2" fill="#f5143c"/>
<rect x="231.70" y="285" width="1" height="5.5" fill="#f5143c"/>
<rect x="230.20" y="286.3" width="4" height="4.2" fill="#f5143c"/>
<rect x="237.55" y="283.5" width="1" height="6.0" fill="#f5143c"/>
<rect x="236.05" y="284.2" width="4" height="5.3" fill="#f5143c"/>
<rect x="243.40" y="278.8" width="1" height="4.7" fill="#0c2c8c"/>
<rect x="241.90" y="282" width="4" height="1.5" fill="#0c2c8c"/>
<rect x="247.75" y="277.7" width="4" height="1.8" fill="#f5143c"/>
<rect x="255.10" y="277.7" width="1" height="4.8" fill="#f5143c"/>
<rect x="253.60" y="277.7" width="4" height="3.8" fill="#f5143c"/>
<rect x="260.95" y="275.4" width="1" height="4.6" fill="#0c2c8c"/>
<rect x="259.45" y="275.4" width="4" height="2.1" fill="#0c2c8c"/>
<rect x="266.80" y="278.8" width="1" height="3.0" fill="#0c2c8c"/>
<rect x="265.30" y="279.6" width="4" height="1.2" fill="#0c2c8c"/>
<rect x="272.65" y="285.2" width="1" height="8.3" fill="#0c2c8c"/>
<rect x="271.15" y="285.2" width="4" height="6.5" fill="#0c2c8c"/>
<rect x="278.50" y="295.5" width="1" height="6.5" fill="#f5143c"/>
<rect x="277.00" y="295.5" width="4" height="3.0" fill="#f5143c"/>
<rect x="284.35" y="288.5" width="1" height="6.0" fill="#f5143c"/>
<rect x="282.85" y="292.1" width="4" height="2.4" fill="#f5143c"/>
<rect x="290.20" y="295.8" width="1" height="5.2" fill="#0c2c8c"/>
<rect x="288.70" y="299.5" width="4" height="1.5" fill="#0c2c8c"/>
<rect x="294.55" y="306.3" width="4" height="3.2" fill="#0c2c8c"/>
<rect x="301.90" y="305.5" width="1" height="6.0" fill="#f5143c"/>
<rect x="300.40" y="307.3" width="4" height="4.2" fill="#f5143c"/>
<rect x="307.75" y="295.5" width="1" height="3.5" fill="#f5143c"/>
<rect x="306.25" y="296.4" width="4" height="2.6" fill="#f5143c"/>
<rect x="313.60" y="285.6" width="1" height="4.9" fill="#f5143c"/>
<rect x="312.10" y="285.6" width="4" height="3.9" fill="#f5143c"/>
<rect x="319.45" y="284" width="1" height="3.5" fill="#0c2c8c"/>
<rect x="317.95" y="284" width="4" height="1.5" fill="#0c2c8c"/>
<rect x="325.30" y="279.5" width="1" height="2.2" fill="#f5143c"/>
<rect x="323.80" y="279.5" width="4" height="1.2" fill="#f5143c"/>
<rect x="329.65" y="280.5" width="4" height="1.2" fill="#f5143c"/>
<rect x="335.50" y="280.2" width="4" height="1.8" fill="#f5143c"/>
<rect x="342.85" y="277.7" width="1" height="10.8" fill="#0c2c8c"/>
<rect x="341.35" y="277.7" width="4" height="3.8" fill="#0c2c8c"/>
<rect x="347.20" y="283.6" width="4" height="6.9" fill="#0c2c8c"/>
<rect x="354.55" y="291" width="1" height="6.0" fill="#f5143c"/>
<rect x="353.05" y="291" width="4" height="4.0" fill="#f5143c"/>
<rect x="358.90" y="300.2" width="4" height="5.3" fill="#0c2c8c"/>
<rect x="366.25" y="304" width="1" height="4.0" fill="#f5143c"/>
<rect x="364.75" y="305.2" width="4" height="2.8" fill="#f5143c"/>
<rect x="372.10" y="296" width="1" height="6.5" fill="#f5143c"/>
<rect x="370.60" y="298" width="4" height="3.5" fill="#f5143c"/>
<rect x="376.45" y="293.7" width="4" height="4.8" fill="#0c2c8c"/>
<rect x="383.80" y="300.2" width="1" height="7.3" fill="#f5143c"/>
<rect x="382.30" y="300.2" width="4" height="3.3" fill="#f5143c"/>
<rect x="388.15" y="303.5" width="4" height="5.1" fill="#0c2c8c"/>
<rect x="394.00" y="299.4" width="4" height="7.2" fill="#f5143c"/>
<rect x="401.35" y="306.6" width="1" height="7.4" fill="#f5143c"/>
<rect x="399.85" y="306.6" width="4" height="1.4" fill="#f5143c"/>
<rect x="407.20" y="302.5" width="1" height="3.0" fill="#f5143c"/>
<rect x="405.70" y="302.5" width="4" height="1.2" fill="#f5143c"/>
<rect x="411.55" y="292.6" width="4" height="8.6" fill="#f5143c"/>
<path d="M68,337.2 C70.0,337.7 75.5,339.2 80,340 C84.5,340.8 90.0,341.4 95,342 C100.0,342.6 105.8,343.2 110,343.5 C114.2,343.8 116.7,344.0 120,344 C123.3,344.0 125.8,344.0 130,343.5 C134.2,343.0 140.0,342.1 145,341 C150.0,339.9 155.8,338.2 160,337 C164.2,335.8 166.7,334.6 170,333.5 C173.3,332.4 175.0,332.4 180,330.5 C185.0,328.6 193.3,324.9 200,322 C206.7,319.1 213.7,316.0 220,313 C226.3,310.0 233.0,306.5 238,304 C243.0,301.5 246.0,299.6 250,298 C254.0,296.4 258.7,295.2 262,294.3 C265.3,293.4 267.0,292.9 270,292.5 C273.0,292.1 276.7,292.2 280,292 C283.3,291.8 286.7,291.5 290,291.5 C293.3,291.5 296.7,291.9 300,292 C303.3,292.1 306.7,292.0 310,291.8 C313.3,291.6 316.7,291.3 320,291 C323.3,290.7 326.7,290.3 330,290 C333.3,289.7 336.7,289.2 340,289 C343.3,288.8 346.7,288.4 350,288.5 C353.3,288.6 356.7,289.2 360,289.5 C363.3,289.8 366.7,290.2 370,290.5 C373.3,290.8 375.8,291.1 380,291.5 C384.2,291.9 390.8,292.5 395,293 C399.2,293.5 402.0,294.1 405,294.5 C408.0,294.9 411.7,295.3 413,295.5" fill="none" stroke="#b45cf0" stroke-width="1.3"/>
<path d="M68,361 C69.2,361.2 72.7,362.1 75,362 C77.3,361.9 79.5,361.5 82,360.5 C84.5,359.5 87.0,357.5 90,356 C93.0,354.5 97.0,352.8 100,351.5 C103.0,350.2 105.5,349.6 108,348.5 C110.5,347.4 113.0,346.4 115,345 C117.0,343.6 118.3,342.0 120,340 C121.7,338.0 123.3,335.7 125,333 C126.7,330.3 128.3,327.0 130,324 C131.7,321.0 133.3,317.6 135,315 C136.7,312.4 138.3,309.9 140,308.5 C141.7,307.1 143.3,306.9 145,306.5 C146.7,306.1 148.0,306.4 150,306 C152.0,305.6 154.5,304.8 157,304 C159.5,303.2 162.5,302.5 165,301.5 C167.5,300.5 169.5,298.9 172,298 C174.5,297.1 177.0,296.6 180,296 C183.0,295.4 186.7,294.8 190,294.5 C193.3,294.2 197.5,294.3 200,294.5 C202.5,294.7 203.0,295.7 205,295.5 C207.0,295.3 209.5,293.8 212,293.5 C214.5,293.2 217.3,293.7 220,293.5 C222.7,293.3 225.0,293.2 228,292.5 C231.0,291.8 235.2,290.6 238,289.5 C240.8,288.4 242.2,287.2 245,286 C247.8,284.8 252.2,282.9 255,282 C257.8,281.1 259.8,280.6 262,280.3 C264.2,280.0 265.8,279.9 268,280.2 C270.2,280.5 272.5,280.9 275,282 C277.5,283.1 280.5,285.2 283,287 C285.5,288.8 287.7,291.0 290,293 C292.3,295.0 294.8,297.6 297,299 C299.2,300.4 301.0,301.1 303,301.5 C305.0,301.9 306.8,302.0 309,301.5 C311.2,301.0 313.8,299.8 316,298.5 C318.2,297.2 320.0,295.7 322,294 C324.0,292.3 326.0,290.2 328,288.5 C330.0,286.8 332.0,285.1 334,284 C336.0,282.9 338.0,282.2 340,282 C342.0,281.8 344.0,282.1 346,282.5 C348.0,282.9 350.0,283.6 352,284.5 C354.0,285.4 356.0,286.6 358,288 C360.0,289.4 362.0,291.5 364,293 C366.0,294.5 367.7,295.8 370,297 C372.3,298.2 375.5,299.1 378,300 C380.5,300.9 382.7,301.9 385,302.5 C387.3,303.1 389.5,303.3 392,303.5 C394.5,303.7 397.3,303.6 400,303.5 C402.7,303.4 405.8,303.3 408,303 C410.2,302.7 412.2,301.8 413,301.5" fill="none" stroke="#a4cc2c" stroke-width="1.3"/>
<g font-family='"DejaVu Sans","IPAGothic",sans-serif'>
<text x="245.3" y="261" font-size="7.9" fill="#d9534f" textLength="39.2" lengthAdjust="spacingAndGlyphs" >2014/12/8</text>
<text x="246" y="269.7" font-size="7.9" fill="#d9534f" textLength="37.5" lengthAdjust="spacingAndGlyphs" >18,030.83</text>
<text x="325.5" y="264.8" font-size="7.9" fill="#d9534f" textLength="43.8" lengthAdjust="spacingAndGlyphs" >2014/12/29</text>
<text x="328.5" y="273.2" font-size="7.9" fill="#d9534f" textLength="34.5" lengthAdjust="spacingAndGlyphs" >17,914.55</text>
<text x="287" y="321" font-size="7.9" fill="#5b8cff" textLength="35.0" lengthAdjust="spacingAndGlyphs" >16,672.94</text>
<text x="285" y="328.8" font-size="7.9" fill="#5b8cff" textLength="43.0" lengthAdjust="spacingAndGlyphs" >2014/12/17</text>
<text x="386.8" y="323" font-size="7.9" fill="#5b8cff" textLength="33.8" lengthAdjust="spacingAndGlyphs" >16,592.57</text>
<text x="386" y="331" font-size="7.9" fill="#5b8cff" textLength="38.5" lengthAdjust="spacingAndGlyphs" >2015/1/16</text>
</g>
</g>
<clipPath id="cl2"><rect x="516.3" y="212" width="511" height="248"/></clipPath>
<g clip-path="url(#cl2)">
<rect x="516.3" y="212" width="511" height="248" fill="#fff" />
<rect x="516.3" y="212" width="511" height="16.80000000000001" fill="#f1f4fa" />
<rect x="551.7" y="213.5" width="1" height="10.0" fill="#dde1e9" />
<rect x="590.5" y="213.5" width="1" height="10.0" fill="#dde1e9" />
<rect x="629.2" y="213.5" width="1" height="10.0" fill="#dde1e9" />
<rect x="668.0" y="213.5" width="1" height="10.0" fill="#dde1e9" />
<rect x="706.7" y="213.5" width="1" height="10.0" fill="#dde1e9" />
<rect x="745.5" y="213.5" width="1" height="10.0" fill="#dde1e9" />
<rect x="784.2" y="213.5" width="1" height="10.0" fill="#dde1e9" />
<rect x="823.0" y="213.5" width="1" height="10.0" fill="#dde1e9" />
<rect x="861.7" y="213.5" width="1" height="10.0" fill="#dde1e9" />
<rect x="900.5" y="213.5" width="1" height="10.0" fill="#dde1e9" />
<rect x="939.2" y="213.5" width="1" height="10.0" fill="#dde1e9" />
<rect x="978.0" y="213.5" width="1" height="10.0" fill="#dde1e9" />
<rect x="1016.7" y="213.5" width="1" height="10.0" fill="#dde1e9" />
<path d="M785.3,228.8 V210.7 q0,-1.7 1.7,-1.7 H821.5999999999999 q1.7,0 1.7,1.7 V228.8 Z" fill="#fff" stroke="#e3e7ef" stroke-width="1"/>
<rect x="785.8" y="227.8" width="37.0" height="1.6" fill="#fff" />
<g font-family='"Liberation Sans","IPAGothic",sans-serif' font-size="11.4">
<text x="533" y="221.9" font-size="11.4" fill="#1f3da8" text-anchor="middle" textLength="15.0" lengthAdjust="spacingAndGlyphs" >1日</text>
<rect x="525.5" y="223.1" width="15" height="0.9" fill="#1f3da8" />
<text x="571.6" y="221.9" font-size="11.4" fill="#1f3da8" text-anchor="middle" textLength="15.0" lengthAdjust="spacingAndGlyphs" >2日</text>
<rect x="564.1" y="223.1" width="15" height="0.9" fill="#1f3da8" />
<text x="610.3" y="221.9" font-size="11.4" fill="#1f3da8" text-anchor="middle" textLength="15.0" lengthAdjust="spacingAndGlyphs" >3日</text>
<rect x="602.8" y="223.1" width="15" height="0.9" fill="#1f3da8" />
<text x="649.1" y="221.9" font-size="11.4" fill="#1f3da8" text-anchor="middle" textLength="15.0" lengthAdjust="spacingAndGlyphs" >5日</text>
<rect x="641.6" y="223.1" width="15" height="0.9" fill="#1f3da8" />
<text x="687.8" y="221.9" font-size="11.4" fill="#1f3da8" text-anchor="middle" textLength="20.0" lengthAdjust="spacingAndGlyphs" >10日</text>
<rect x="677.8" y="223.1" width="20" height="0.9" fill="#1f3da8" />
<text x="726.6" y="221.9" font-size="11.4" fill="#1f3da8" text-anchor="middle" textLength="23.5" lengthAdjust="spacingAndGlyphs" >1ヶ月</text>
<rect x="714.85" y="223.1" width="23.5" height="0.9" fill="#1f3da8" />
<text x="765.3" y="221.9" font-size="11.4" fill="#1f3da8" text-anchor="middle" textLength="23.5" lengthAdjust="spacingAndGlyphs" >2ヶ月</text>
<rect x="753.55" y="223.1" width="23.5" height="0.9" fill="#1f3da8" />
<text x="804.1" y="221.9" font-size="11.4" fill="#1c1c8c" text-anchor="middle" font-weight="bold" textLength="23.5" lengthAdjust="spacingAndGlyphs" >3ヶ月</text>
<text x="842.8" y="221.9" font-size="11.4" fill="#1f3da8" text-anchor="middle" textLength="23.5" lengthAdjust="spacingAndGlyphs" >6ヶ月</text>
<rect x="831.05" y="223.1" width="23.5" height="0.9" fill="#1f3da8" />
<text x="881.6" y="221.9" font-size="11.4" fill="#1f3da8" text-anchor="middle" textLength="15.0" lengthAdjust="spacingAndGlyphs" >1年</text>
<rect x="874.1" y="223.1" width="15" height="0.9" fill="#1f3da8" />
<text x="920.3" y="221.9" font-size="11.4" fill="#1f3da8" text-anchor="middle" textLength="15.0" lengthAdjust="spacingAndGlyphs" >2年</text>
<rect x="912.8" y="223.1" width="15" height="0.9" fill="#1f3da8" />
<text x="959.1" y="221.9" font-size="11.4" fill="#1f3da8" text-anchor="middle" textLength="15.0" lengthAdjust="spacingAndGlyphs" >3年</text>
<rect x="951.6" y="223.1" width="15" height="0.9" fill="#1f3da8" />
<text x="997.8" y="221.9" font-size="11.4" fill="#c2328a" text-anchor="middle" textLength="15.0" lengthAdjust="spacingAndGlyphs" >5年</text>
<rect x="990.3" y="223.1" width="15" height="0.9" fill="#c2328a" />
</g>
<rect x="520.8" y="235.8" width="99.5" height="13.5" rx="1.5" fill="#fff" stroke="#a9a9a9"/>
<rect x="521.3" y="249.60000000000002" width="99.5" height="0.9" fill="#dcdcdc" />
<text x="524.6999999999999" y="245.8" font-size="9.99" fill="#111" textLength="18.9" lengthAdjust="spacingAndGlyphs" font-family='"Liberation Sans","IPAGothic",sans-serif' >日足</text>
<path d="M609.8,239.75 h5.6 l-2.8,5 z" fill="#111"/>
<text x="970.7" y="244" font-size="10.4" fill="#444" textLength="65.6" lengthAdjust="spacingAndGlyphs" font-family='"Liberation Sans","IPAGothic",sans-serif' >15/01/15 16:00</text>
<g stroke="#a8a8a8" stroke-width="1.15" fill="none">
<rect x="564.2" y="249.8" width="415.0999999999999" height="136.39999999999998"/>
<line x1="564.2" y1="277" x2="982.9" y2="277"/>
<line x1="564.2" y1="303.3" x2="982.9" y2="303.3"/>
<line x1="564.2" y1="329.2" x2="982.9" y2="329.2"/>
<line x1="564.2" y1="355.5" x2="982.9" y2="355.5"/>
<line x1="564.2" y1="381.6" x2="982.9" y2="381.6"/>
<line x1="647" y1="249.8" x2="647" y2="386.2"/>
<line x1="707.9" y1="249.8" x2="707.9" y2="386.2"/>
<line x1="769.2" y1="249.8" x2="769.2" y2="386.2"/>
<line x1="829.8" y1="249.8" x2="829.8" y2="386.2"/>
<line x1="890.7" y1="249.8" x2="890.7" y2="386.2"/>
<line x1="951.8" y1="249.8" x2="951.8" y2="386.2"/>
<rect x="564.2" y="394.5" width="415.0999999999999" height="56.30000000000001"/>
<line x1="564.2" y1="397.5" x2="982.9" y2="397.5"/>
<line x1="564.2" y1="405" x2="982.9" y2="405"/>
<line x1="564.2" y1="412.6" x2="982.9" y2="412.6"/>
<line x1="564.2" y1="420.1" x2="982.9" y2="420.1"/>
<line x1="564.2" y1="427.8" x2="982.9" y2="427.8"/>
<line x1="564.2" y1="435.5" x2="982.9" y2="435.5"/>
<line x1="564.2" y1="443.2" x2="982.9" y2="443.2"/>
<line x1="647" y1="394.5" x2="647" y2="450.8"/>
<line x1="707.9" y1="394.5" x2="707.9" y2="450.8"/>
<line x1="769.2" y1="394.5" x2="769.2" y2="450.8"/>
<line x1="829.8" y1="394.5" x2="829.8" y2="450.8"/>
<line x1="890.7" y1="394.5" x2="890.7" y2="450.8"/>
<line x1="951.8" y1="394.5" x2="951.8" y2="450.8"/>
</g>
<g font-family='"DejaVu Sans","IPAGothic",sans-serif' font-size="7.6" fill="#222">
<text x="986.8" y="279.9" font-size="7.9" fill="#222" textLength="23.3" lengthAdjust="spacingAndGlyphs" >18,000</text>
<text x="986.8" y="306.2" font-size="7.9" fill="#222" textLength="23.3" lengthAdjust="spacingAndGlyphs" >17,500</text>
<text x="986.8" y="332.09999999999997" font-size="7.9" fill="#222" textLength="23.3" lengthAdjust="spacingAndGlyphs" >17,000</text>
<text x="986.8" y="358.4" font-size="7.9" fill="#222" textLength="23.3" lengthAdjust="spacingAndGlyphs" >16,500</text>
<text x="986.8" y="384.5" font-size="7.9" fill="#222" textLength="23.3" lengthAdjust="spacingAndGlyphs" >16,000</text>
<text x="986.5" y="400.4" font-size="7.6" fill="#222" textLength="19.6" lengthAdjust="spacingAndGlyphs" >350M</text>
<text x="986.5" y="407.9" font-size="7.6" fill="#222" textLength="19.6" lengthAdjust="spacingAndGlyphs" >300M</text>
<text x="986.5" y="415.5" font-size="7.6" fill="#222" textLength="19.6" lengthAdjust="spacingAndGlyphs" >250M</text>
<text x="986.5" y="423.0" font-size="7.6" fill="#222" textLength="19.6" lengthAdjust="spacingAndGlyphs" >200M</text>
<text x="986.5" y="430.7" font-size="7.6" fill="#222" textLength="19.6" lengthAdjust="spacingAndGlyphs" >150M</text>
<text x="986.5" y="438.4" font-size="7.6" fill="#222" textLength="19.6" lengthAdjust="spacingAndGlyphs" >100M</text>
<text x="986.5" y="446.09999999999997" font-size="7.6" fill="#222" textLength="14.5" lengthAdjust="spacingAndGlyphs" >50M</text>
<text x="628.3" y="459.0" font-size="7.8" fill="#222" textLength="40.4" lengthAdjust="spacingAndGlyphs" >2014/11/3</text>
<text x="688" y="459.0" font-size="7.8" fill="#222" textLength="43.7" lengthAdjust="spacingAndGlyphs" >2014/11/17</text>
<text x="750.8" y="459.0" font-size="7.8" fill="#222" textLength="39.7" lengthAdjust="spacingAndGlyphs" >2014/12/2</text>
<text x="810" y="459.0" font-size="7.8" fill="#222" textLength="44.7" lengthAdjust="spacingAndGlyphs" >2014/12/16</text>
<text x="870.8" y="459.0" font-size="7.8" fill="#222" textLength="45.0" lengthAdjust="spacingAndGlyphs" >2014/12/31</text>
<text x="933.3" y="459.0" font-size="7.8" fill="#222" textLength="39.7" lengthAdjust="spacingAndGlyphs" >2015/1/15</text>
<text x="568.5" y="402.8" font-size="6.6" fill="#222" textLength="24.0" lengthAdjust="spacingAndGlyphs" >単位: M</text>
</g>
<g fill="#5a5a5a">
<rect x="590.25" y="434.7" width="3.7" height="16.1"/>
<rect x="596.34" y="437" width="3.7" height="13.8"/>
<rect x="602.43" y="435.8" width="3.7" height="15.0"/>
<rect x="608.52" y="437" width="3.7" height="13.8"/>
<rect x="614.61" y="440" width="3.7" height="10.8"/>
<rect x="620.70" y="438" width="3.7" height="12.8"/>
<rect x="626.79" y="439.2" width="3.7" height="11.6"/>
<rect x="632.88" y="438.3" width="3.7" height="12.5"/>
<rect x="638.97" y="432" width="3.7" height="18.8"/>
<rect x="645.06" y="438.3" width="3.7" height="12.5"/>
<rect x="651.15" y="438.3" width="3.7" height="12.5"/>
<rect x="657.24" y="439.2" width="3.7" height="11.6"/>
<rect x="663.33" y="440" width="3.7" height="10.8"/>
<rect x="669.42" y="438.3" width="3.7" height="12.5"/>
<rect x="675.51" y="440" width="3.7" height="10.8"/>
<rect x="681.60" y="443" width="3.7" height="7.8"/>
<rect x="687.69" y="439.2" width="3.7" height="11.6"/>
<rect x="693.78" y="438.3" width="3.7" height="12.5"/>
<rect x="699.87" y="439.7" width="3.7" height="11.1"/>
<rect x="705.96" y="439.7" width="3.7" height="11.1"/>
<rect x="712.05" y="438" width="3.7" height="12.8"/>
<rect x="718.14" y="440" width="3.7" height="10.8"/>
<rect x="724.23" y="439.2" width="3.7" height="11.6"/>
<rect x="730.32" y="429.2" width="3.7" height="21.6"/>
<rect x="736.41" y="438" width="3.7" height="12.8"/>
<rect x="742.50" y="438" width="3.7" height="12.8"/>
<rect x="748.59" y="440.8" width="3.7" height="10.0"/>
<rect x="754.68" y="438.7" width="3.7" height="12.1"/>
<rect x="760.77" y="438" width="3.7" height="12.8"/>
<rect x="766.86" y="438.3" width="3.7" height="12.5"/>
<rect x="772.95" y="435.8" width="3.7" height="15.0"/>
<rect x="779.04" y="439.2" width="3.7" height="11.6"/>
<rect x="785.13" y="438.3" width="3.7" height="12.5"/>
<rect x="791.22" y="437" width="3.7" height="13.8"/>
<rect x="797.31" y="435.8" width="3.7" height="15.0"/>
<rect x="803.40" y="433.3" width="3.7" height="17.5"/>
<rect x="809.49" y="437" width="3.7" height="13.8"/>
<rect x="815.58" y="432" width="3.7" height="18.8"/>
<rect x="821.67" y="433.3" width="3.7" height="17.5"/>
<rect x="827.76" y="432.7" width="3.7" height="18.1"/>
<rect x="833.85" y="432.7" width="3.7" height="18.1"/>
<rect x="839.94" y="432" width="3.7" height="18.8"/>
<rect x="846.03" y="398.3" width="3.7" height="52.5"/>
<rect x="852.12" y="435.8" width="3.7" height="15.0"/>
<rect x="858.21" y="438.3" width="3.7" height="12.5"/>
<rect x="864.30" y="443.7" width="3.7" height="7.1"/>
<rect x="870.39" y="442.5" width="3.7" height="8.3"/>
<rect x="876.48" y="442.5" width="3.7" height="8.3"/>
<rect x="882.57" y="443.3" width="3.7" height="7.5"/>
<rect x="888.66" y="438" width="3.7" height="12.8"/>
<rect x="894.75" y="438.7" width="3.7" height="12.1"/>
<rect x="900.84" y="432.5" width="3.7" height="18.3"/>
<rect x="906.93" y="435.5" width="3.7" height="15.3"/>
<rect x="913.02" y="436.7" width="3.7" height="14.1"/>
<rect x="919.11" y="433.3" width="3.7" height="17.5"/>
<rect x="925.20" y="435.8" width="3.7" height="15.0"/>
<rect x="931.29" y="437" width="3.7" height="13.8"/>
<rect x="937.38" y="435.8" width="3.7" height="15.0"/>
<rect x="943.47" y="433.8" width="3.7" height="17.0"/>
<rect x="949.56" y="435.8" width="3.7" height="15.0"/>
</g>
<rect x="590.10" y="350.1" width="4" height="10.9" fill="#f5143c"/>
<rect x="597.69" y="348" width="1" height="10.0" fill="#0c2c8c"/>
<rect x="596.19" y="350.5" width="4" height="7.5" fill="#0c2c8c"/>
<rect x="603.78" y="342" width="1" height="15.5" fill="#f5143c"/>
<rect x="602.28" y="346.7" width="4" height="10.8" fill="#f5143c"/>
<rect x="609.87" y="340" width="1" height="8.0" fill="#f5143c"/>
<rect x="608.37" y="340" width="4" height="6.0" fill="#f5143c"/>
<rect x="615.96" y="339.3" width="1" height="4.2" fill="#f5143c"/>
<rect x="614.46" y="339.3" width="4" height="1.2" fill="#f5143c"/>
<rect x="620.55" y="329.1" width="4" height="9.4" fill="#f5143c"/>
<rect x="628.14" y="326.5" width="1" height="8.5" fill="#0c2c8c"/>
<rect x="626.64" y="329.5" width="4" height="1.5" fill="#0c2c8c"/>
<rect x="634.23" y="319" width="1" height="14.0" fill="#f5143c"/>
<rect x="632.73" y="319" width="4" height="12.5" fill="#f5143c"/>
<rect x="638.82" y="309.2" width="4" height="9.3" fill="#f5143c"/>
<rect x="646.41" y="307.5" width="1" height="4.5" fill="#0c2c8c"/>
<rect x="644.91" y="309" width="4" height="2.0" fill="#0c2c8c"/>
<rect x="652.50" y="309.5" width="1" height="5.5" fill="#f5143c"/>
<rect x="651.00" y="309.5" width="4" height="1.5" fill="#f5143c"/>
<rect x="657.09" y="304" width="4" height="5.5" fill="#f5143c"/>
<rect x="664.68" y="300.6" width="1" height="5.9" fill="#f5143c"/>
<rect x="663.18" y="300.6" width="4" height="3.4" fill="#f5143c"/>
<rect x="670.77" y="299.2" width="1" height="4.3" fill="#f5143c"/>
<rect x="669.27" y="299.2" width="4" height="1.5" fill="#f5143c"/>
<rect x="675.36" y="298" width="4" height="2.5" fill="#f5143c"/>
<rect x="682.95" y="297" width="1" height="2.7" fill="#0c2c8c"/>
<rect x="681.45" y="297" width="4" height="1.2" fill="#0c2c8c"/>
<rect x="689.04" y="296" width="1" height="5.5" fill="#f5143c"/>
<rect x="687.54" y="297.5" width="4" height="1.5" fill="#f5143c"/>
<rect x="695.13" y="292.5" width="1" height="7.0" fill="#f5143c"/>
<rect x="693.63" y="295.5" width="4" height="2.0" fill="#f5143c"/>
<rect x="699.72" y="295.5" width="4" height="1.5" fill="#0c2c8c"/>
<rect x="705.81" y="295.5" width="4" height="1.5" fill="#f5143c"/>
<rect x="713.40" y="291" width="1" height="4.5" fill="#f5143c"/>
<rect x="711.90" y="293" width="4" height="2.5" fill="#f5143c"/>
<rect x="719.49" y="291.5" width="1" height="5.5" fill="#f5143c"/>
<rect x="717.99" y="293.5" width="4" height="1.2" fill="#f5143c"/>
<rect x="725.58" y="292" width="1" height="6.0" fill="#f5143c"/>
<rect x="724.08" y="292" width="4" height="2.0" fill="#f5143c"/>
<rect x="731.67" y="282" width="1" height="10.0" fill="#f5143c"/>
<rect x="730.17" y="286.6" width="4" height="5.4" fill="#f5143c"/>
<rect x="737.76" y="284.5" width="1" height="3.0" fill="#f5143c"/>
<rect x="736.26" y="285.8" width="4" height="1.7" fill="#f5143c"/>
<rect x="743.85" y="285" width="1" height="3.5" fill="#0c2c8c"/>
<rect x="742.35" y="286" width="4" height="1.5" fill="#0c2c8c"/>
<rect x="749.94" y="286" width="1" height="2.5" fill="#f5143c"/>
<rect x="748.44" y="286" width="4" height="1.5" fill="#f5143c"/>
<rect x="756.03" y="282" width="1" height="5.5" fill="#0c2c8c"/>
<rect x="754.53" y="286.3" width="4" height="1.2" fill="#0c2c8c"/>
<rect x="762.12" y="286" width="1" height="5.5" fill="#0c2c8c"/>
<rect x="760.62" y="286" width="4" height="3.0" fill="#0c2c8c"/>
<rect x="766.71" y="283.4" width="4" height="5.1" fill="#f5143c"/>
<rect x="772.80" y="281.5" width="4" height="2.5" fill="#f5143c"/>
<rect x="780.39" y="280" width="1" height="7.5" fill="#0c2c8c"/>
<rect x="778.89" y="281.5" width="4" height="2.0" fill="#0c2c8c"/>
<rect x="786.48" y="277" width="1" height="5.0" fill="#f5143c"/>
<rect x="784.98" y="278.2" width="4" height="3.8" fill="#f5143c"/>
<rect x="792.57" y="279.6" width="1" height="7.9" fill="#0c2c8c"/>
<rect x="791.07" y="279.6" width="4" height="4.9" fill="#0c2c8c"/>
<rect x="798.66" y="285" width="1" height="11.5" fill="#0c2c8c"/>
<rect x="797.16" y="285" width="4" height="3.0" fill="#0c2c8c"/>
<rect x="804.75" y="287.7" width="1" height="15.3" fill="#0c2c8c"/>
<rect x="803.25" y="287.7" width="4" height="13.8" fill="#0c2c8c"/>
<rect x="810.84" y="289.8" width="1" height="11.7" fill="#f5143c"/>
<rect x="809.34" y="298.5" width="4" height="3.0" fill="#f5143c"/>
<rect x="815.43" y="298.3" width="4" height="16.7" fill="#0c2c8c"/>
<rect x="823.02" y="308" width="1" height="15.5" fill="#0c2c8c"/>
<rect x="821.52" y="314.1" width="4" height="6.4" fill="#0c2c8c"/>
<rect x="829.11" y="307" width="1" height="19.0" fill="#0c2c8c"/>
<rect x="827.61" y="320.5" width="4" height="5.5" fill="#0c2c8c"/>
<rect x="833.70" y="310" width="4" height="16.5" fill="#f5143c"/>
<rect x="839.79" y="288.4" width="4" height="21.6" fill="#f5143c"/>
<rect x="847.38" y="283" width="1" height="7.5" fill="#f5143c"/>
<rect x="845.88" y="287" width="4" height="2.0" fill="#f5143c"/>
<rect x="851.97" y="279" width="4" height="8.0" fill="#f5143c"/>
<rect x="859.56" y="273.5" width="1" height="5.0" fill="#f5143c"/>
<rect x="858.06" y="275" width="4" height="3.5" fill="#f5143c"/>
<rect x="865.65" y="273" width="1" height="2.5" fill="#0c2c8c"/>
<rect x="864.15" y="274.3" width="4" height="1.2" fill="#0c2c8c"/>
<rect x="871.74" y="272" width="1" height="3.0" fill="#f5143c"/>
<rect x="870.24" y="273.5" width="4" height="1.5" fill="#f5143c"/>
<rect x="876.33" y="274.5" width="4" height="1.2" fill="#0c2c8c"/>
<rect x="883.92" y="275.5" width="1" height="3.5" fill="#0c2c8c"/>
<rect x="882.42" y="275.5" width="4" height="2.0" fill="#0c2c8c"/>
<rect x="890.01" y="274.5" width="1" height="12.0" fill="#0c2c8c"/>
<rect x="888.51" y="277.6" width="4" height="8.9" fill="#0c2c8c"/>
<rect x="896.10" y="280.3" width="1" height="11.2" fill="#f5143c"/>
<rect x="894.60" y="285.5" width="4" height="1.5" fill="#f5143c"/>
<rect x="900.69" y="286.4" width="4" height="17.6" fill="#0c2c8c"/>
<rect x="908.28" y="299" width="1" height="17.0" fill="#0c2c8c"/>
<rect x="906.78" y="303.3" width="4" height="6.7" fill="#0c2c8c"/>
<rect x="912.87" y="298.8" width="4" height="11.2" fill="#f5143c"/>
<rect x="918.96" y="281.6" width="4" height="16.9" fill="#f5143c"/>
<rect x="926.55" y="281.6" width="1" height="11.9" fill="#0c2c8c"/>
<rect x="925.05" y="281.6" width="4" height="9.4" fill="#0c2c8c"/>
<rect x="932.64" y="287" width="1" height="13.0" fill="#0c2c8c"/>
<rect x="931.14" y="290.4" width="4" height="5.6" fill="#0c2c8c"/>
<rect x="938.73" y="281" width="1" height="22.5" fill="#0c2c8c"/>
<rect x="937.23" y="295.5" width="4" height="2.5" fill="#0c2c8c"/>
<rect x="944.82" y="297.9" width="1" height="18.1" fill="#0c2c8c"/>
<rect x="943.32" y="297.9" width="4" height="9.1" fill="#0c2c8c"/>
<rect x="950.91" y="303" width="1" height="11.0" fill="#0c2c8c"/>
<rect x="949.41" y="306" width="4" height="7.0" fill="#0c2c8c"/>
<path d="M592,340 C593.3,340.3 597.0,341.4 600,342 C603.0,342.6 606.7,343.1 610,343.5 C613.3,343.9 616.7,344.2 620,344.5 C623.3,344.8 626.7,345.1 630,345 C633.3,344.9 636.7,344.3 640,344 C643.3,343.7 646.7,343.5 650,343 C653.3,342.5 656.7,341.7 660,341 C663.3,340.3 666.7,339.7 670,339 C673.3,338.3 676.7,337.8 680,337 C683.3,336.2 686.7,335.1 690,334 C693.3,332.9 697.0,331.8 700,330.5 C703.0,329.2 704.7,328.2 708,326.5 C711.3,324.8 715.5,322.3 720,320 C724.5,317.7 730.0,314.8 735,312.5 C740.0,310.2 745.0,308.1 750,306 C755.0,303.9 760.8,301.6 765,300 C769.2,298.4 771.7,297.6 775,296.5 C778.3,295.4 781.7,294.3 785,293.5 C788.3,292.7 791.7,291.9 795,291.5 C798.3,291.1 801.7,290.9 805,291 C808.3,291.1 811.7,291.6 815,292 C818.3,292.4 821.7,293.1 825,293.5 C828.3,293.9 831.7,294.4 835,294.5 C838.3,294.6 841.7,294.3 845,294 C848.3,293.7 851.7,293.0 855,292.5 C858.3,292.0 861.7,291.4 865,291 C868.3,290.6 870.8,290.2 875,290 C879.2,289.8 885.8,289.9 890,290 C894.2,290.1 895.8,290.3 900,290.5 C904.2,290.7 910.0,290.9 915,291.2 C920.0,291.4 925.8,291.6 930,292 C934.2,292.4 936.3,293.0 940,293.5 C943.7,294.0 950.0,294.8 952,295" fill="none" stroke="#b45cf0" stroke-width="1.3"/>
<path d="M592,364 C593.3,363.3 597.0,362.0 600,360 C603.0,358.0 606.7,354.7 610,352 C613.3,349.3 616.7,346.7 620,344 C623.3,341.3 626.7,339.0 630,336 C633.3,333.0 636.7,329.2 640,326 C643.3,322.8 646.7,319.6 650,317 C653.3,314.4 656.7,312.2 660,310.5 C663.3,308.8 666.7,307.8 670,306.5 C673.3,305.2 676.7,304.1 680,303 C683.3,301.9 686.7,300.8 690,300 C693.3,299.2 696.7,298.6 700,298 C703.3,297.4 706.7,297.0 710,296.5 C713.3,296.0 716.7,295.7 720,295 C723.3,294.3 726.7,293.4 730,292.5 C733.3,291.6 736.7,290.3 740,289.5 C743.3,288.7 746.7,288.0 750,287.5 C753.3,287.0 756.7,286.7 760,286.5 C763.3,286.3 766.7,286.8 770,286.5 C773.3,286.2 777.2,285.5 780,285 C782.8,284.5 784.5,283.8 787,283.5 C789.5,283.2 792.3,282.8 795,283 C797.7,283.2 800.2,283.7 803,285 C805.8,286.3 809.2,288.5 812,291 C814.8,293.5 817.5,297.0 820,300 C822.5,303.0 824.8,306.8 827,309 C829.2,311.2 831.2,312.6 833,313.5 C834.8,314.4 836.0,314.7 838,314.5 C840.0,314.3 842.7,314.1 845,312.5 C847.3,310.9 849.8,307.9 852,305 C854.2,302.1 855.8,298.5 858,295 C860.2,291.5 862.7,286.8 865,284 C867.3,281.2 869.5,279.8 872,278.5 C874.5,277.2 877.3,276.2 880,276 C882.7,275.8 885.5,276.3 888,277 C890.5,277.7 892.7,278.7 895,280 C897.3,281.3 900.3,283.7 902,285 C903.7,286.3 903.3,286.5 905,288 C906.7,289.5 909.8,292.5 912,294 C914.2,295.5 915.8,296.3 918,297 C920.2,297.7 922.7,298.0 925,298 C927.3,298.0 929.8,297.5 932,297 C934.2,296.5 935.8,295.4 938,295 C940.2,294.6 943.0,294.0 945,294.5 C947.0,295.0 948.7,296.8 950,298 C951.3,299.2 952.5,301.3 953,302" fill="none" stroke="#a4cc2c" stroke-width="1.3"/>
<g font-family='"DejaVu Sans","IPAGothic",sans-serif'>
<text x="770.8" y="263.6" font-size="7.9" fill="#d9534f" textLength="39.2" lengthAdjust="spacingAndGlyphs" >2014/12/5</text>
<text x="771" y="272" font-size="7.9" fill="#d9534f" textLength="37.0" lengthAdjust="spacingAndGlyphs" >17,991.19</text>
<text x="855" y="258.2" font-size="7.9" fill="#d9534f" textLength="44.3" lengthAdjust="spacingAndGlyphs" >2014/12/26</text>
<text x="857" y="266.8" font-size="7.9" fill="#d9534f" textLength="35.5" lengthAdjust="spacingAndGlyphs" >18,103.45</text>
<text x="814.4" y="335" font-size="7.9" fill="#5b8cff" textLength="36.6" lengthAdjust="spacingAndGlyphs" >17,067.59</text>
<text x="811" y="344" font-size="7.9" fill="#5b8cff" textLength="45.6" lengthAdjust="spacingAndGlyphs" >2014/12/16</text>
<text x="893.4" y="325" font-size="7.9" fill="#5b8cff" textLength="36.1" lengthAdjust="spacingAndGlyphs" >17,262.37</text>
<text x="895" y="333.3" font-size="7.9" fill="#5b8cff" textLength="34.5" lengthAdjust="spacingAndGlyphs" >2015/1/6</text>
</g>
</g>
<g shape-rendering="crispEdges">
<rect x="0" y="22" width="1027" height="1" fill="#63666a" />
<rect x="49" y="0" width="1" height="480" fill="#63666a" />
<rect x="1027" y="0" width="1" height="480" fill="#000" />
<rect x="1028" y="0" width="1" height="480" fill="#fde9d9" />
<rect x="1029" y="0" width="1" height="480" fill="#000" />
<rect x="1030" y="0" width="1" height="480" fill="#fde9d9" />
</g>
</svg>
</body></html>
